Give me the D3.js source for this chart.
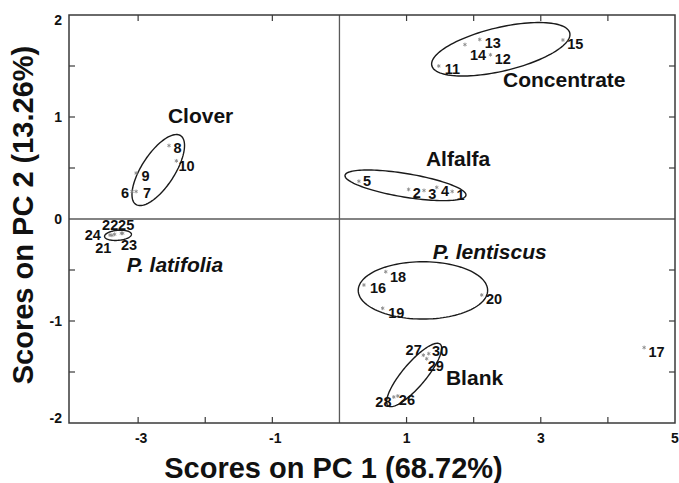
<!DOCTYPE html>
<html>
<head>
<meta charset="utf-8">
<script src="https://cdn.jsdelivr.net/npm/d3@7/dist/d3.min.js"></script>
<style>
  html, body { margin: 0; padding: 0; background: #fff; }
  svg { display: block; font-family: "Liberation Sans", Arial, Helvetica, sans-serif; }
</style>
</head>
<body>
<svg id="chart" width="679" height="483"></svg>
<script>
// PCA score plot: samples 1-30 on the first two principal components
const sampleIds = d3.range(1, 31);
const pc1Scores = [1.68, 1.03, 1.26, 1.45, 0.29, -3.09, -3.03, -2.54, -3.03, -2.43,
                   1.48, 2.25, 2.09, 1.87, 3.33, 0.365, 4.54, 0.69, 0.644, 2.12,
                   -3.39, -3.35, -3.25, -3.42, -3.23, 0.87, 1.25, 0.81, 1.30, 1.33];
const pc2Scores = [0.27, 0.29, 0.28, 0.31, 0.37, 0.27, 0.27, 0.72, 0.45, 0.57,
                   1.50, 1.61, 1.76, 1.71, 1.755, -0.647, -1.26, -0.517, -0.875, -0.745,
                   -0.16, -0.15, -0.14, -0.157, -0.14, -1.735, -1.335, -1.745, -1.37, -1.32];

// Diet groups and their confidence ellipses (centre + semi-axis vectors, in score units)
const groupNames = ["Alfalfa", "Clover", "Concentrate", "P. lentiscus", "P. latifolia", "Blank"];
const groupItalic = [false, false, false, true, true, false];
const ellipseCentre = [[0.984, 0.330], [-2.70, 0.48], [2.404, 1.664], [1.244, -0.70], [-3.30, -0.16], [1.113, -1.529]];
const ellipseAxisU = [[0.901, -0.098], [0.333, 0.337], [1.028, 0.160], [0.964, 0], [0.200, 0.0116], [0.388, 0.302]];
const ellipseAxisV = [[-0.029, -0.114], [0.206, -0.088], [0.075, -0.208], [0, -0.281], [0.0065, -0.049], [0.133, -0.074]];
const groupLabelAt = [[1.289, 0.523], [-2.556, 0.941], [2.437, 1.294], [1.389, -0.395], [-3.171, -0.520], [1.587, -1.627]];

// Axis ticks
const xTickLabels = [-3, -1, 1, 3, 5];
const xBottomTicks = [-3, -2, -1, 1, 2, 3, 4];
const xTopTicks = [-3, -1, 1, 2, 3, 4];
const yTickLabels = [2, 1, 0, -1, -2];
const yTicks = [1.5, 1, 0.5, -0.5, -1, -1.5];

// Sample-number placement around each marker (pixels); default is lower right
const labelNudge = {
  6: [-3, 7, "end"], 7: [7, 7], 8: [4.5, 7.5], 9: [5.5, 8], 10: [2, 10],
  13: [5, 9], 14: [5, 15], 11: [6, 7.5],
  5: [4, 4.5],
  22: [3.6, -4.5, "end"], 25: [-4.6, -3.5, "start"], 24: [-9, 5, "end"],
  21: [-8.7, 17.8, "middle"], 23: [7.7, 16.5, "middle"],
  18: [4.3, 10], 16: [6, 8], 19: [5.6, 9.7],
  27: [-1.6, 0, "end"], 30: [3.2, 2.7], 29: [1, 12.7], 28: [-2.3, 9.7, "end"], 26: [1, 9]
};

const svg = d3.select("#chart");
const plotL = 69, plotR = 675, plotT = 15, plotB = 423;

const x = d3.scaleLinear().domain([-4.03, 5]).range([plotL, plotR]);
const y = d3.scaleLinear().domain([-2, 2]).range([plotB, plotT]);

const frameColor = "#3a3a3a";

// zero lines
svg.append("line").attr("x1", x(0)).attr("x2", x(0)).attr("y1", plotT).attr("y2", plotB)
  .attr("stroke", "#5a5a5a").attr("stroke-width", 1.3);
svg.append("line").attr("x1", plotL).attr("x2", plotR).attr("y1", y(0)).attr("y2", y(0))
  .attr("stroke", "#5a5a5a").attr("stroke-width", 1.3);

// inward ticks on all four sides
const tickLen = 6;
const tickG = svg.append("g").attr("stroke", frameColor).attr("stroke-width", 1.2);
xBottomTicks.forEach(v => tickG.append("line").attr("x1", x(v)).attr("x2", x(v)).attr("y1", plotB).attr("y2", plotB - tickLen));
xTopTicks.forEach(v => tickG.append("line").attr("x1", x(v)).attr("x2", x(v)).attr("y1", plotT).attr("y2", plotT + tickLen));
yTicks.forEach(v => {
  tickG.append("line").attr("x1", plotL).attr("x2", plotL + tickLen).attr("y1", y(v)).attr("y2", y(v));
  tickG.append("line").attr("x1", plotR).attr("x2", plotR - tickLen).attr("y1", y(v)).attr("y2", y(v));
});

// frame
svg.append("rect").attr("x", plotL).attr("y", plotT).attr("width", plotR - plotL).attr("height", plotB - plotT)
  .attr("fill", "none").attr("stroke", frameColor).attr("stroke-width", 1.5);

// tick labels
svg.append("g").selectAll("text").data(xTickLabels).join("text")
  .attr("x", d => x(d) + (d < 0 ? 3 : 0)).attr("y", 443)
  .attr("text-anchor", "middle").attr("font-size", 14).attr("font-weight", "bold").attr("fill", "#111")
  .text(d => d);
svg.append("g").selectAll("text").data(yTickLabels).join("text")
  .attr("x", 62).attr("y", d => Math.min(Math.max(y(d), 20), 418) + 5)
  .attr("text-anchor", "end").attr("font-size", 14).attr("font-weight", "bold").attr("fill", "#111")
  .text(d => d);

// axis titles
svg.append("text").attr("x", 333.5).attr("y", 478).attr("text-anchor", "middle")
  .attr("font-size", 29).attr("font-weight", "bold").attr("fill", "#111")
  .text("Scores on PC 1 (68.72%)");
svg.append("text").attr("transform", "translate(33,215) rotate(-90)").attr("text-anchor", "middle")
  .attr("font-size", 29).attr("font-weight", "bold").attr("fill", "#111")
  .text("Scores on PC 2 (13.26%)");

// group ellipses
const ring = d3.range(0, 120).map(i => i / 120 * 2 * Math.PI);
const ellipseLine = d3.line().curve(d3.curveLinearClosed);
groupNames.forEach((g, i) => {
  const [cx, cy] = ellipseCentre[i], [ux, uy] = ellipseAxisU[i], [vx, vy] = ellipseAxisV[i];
  const pts = ring.map(t => [x(cx + ux * Math.cos(t) + vx * Math.sin(t)), y(cy + uy * Math.cos(t) + vy * Math.sin(t))]);
  svg.append("path").attr("d", ellipseLine(pts)).attr("fill", "none")
    .attr("stroke", "#1a1a1a").attr("stroke-width", 1.4);
});

// sample markers
const star = d3.symbol(d3.symbolAsterisk, 10);
svg.append("g").selectAll("path").data(sampleIds).join("path")
  .attr("transform", (d, i) => `translate(${x(pc1Scores[i])},${y(pc2Scores[i])})`)
  .attr("d", star).attr("stroke", "#8a8a8a").attr("stroke-width", 0.9).attr("fill", "none");

// sample numbers
svg.append("g").selectAll("text").data(sampleIds).join("text")
  .each(function (d, i) {
    const n = labelNudge[d] || [4.3, 9];
    d3.select(this)
      .attr("x", x(pc1Scores[i]) + n[0]).attr("y", y(pc2Scores[i]) + n[1])
      .attr("text-anchor", n[2] || "start");
  })
  .attr("font-size", 14.5).attr("font-weight", "bold").attr("fill", "#111")
  .text(d => d);

// group names
svg.append("g").selectAll("text").data(groupNames).join("text")
  .attr("x", (d, i) => x(groupLabelAt[i][0])).attr("y", (d, i) => y(groupLabelAt[i][1]))
  .attr("font-size", 21).attr("font-weight", "bold").attr("fill", "#111")
  .attr("font-style", (d, i) => groupItalic[i] ? "italic" : "normal")
  .text(d => d);
</script>
</body>
</html>
